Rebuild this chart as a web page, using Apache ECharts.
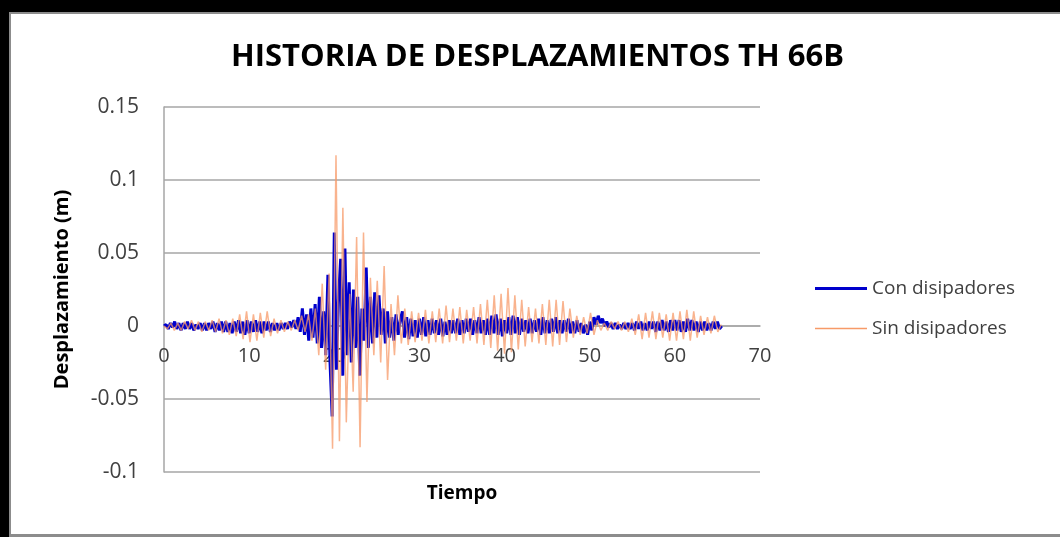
<!DOCTYPE html>
<html>
<head>
<meta charset="utf-8">
<script src="https://cdn.jsdelivr.net/npm/echarts@6/dist/echarts.min.js"></script>
<style>
html,body{margin:0;padding:0;background:#fff;}
#chart{width:1060px;height:537px;}
</style>
</head>
<body>
<div id="chart"></div>
<script>
// ---- Data ----
var TITLE = 'HISTORIA DE DESPLAZAMIENTOS TH 66B';
var SERIES_NAMES = ['Con disipadores', 'Sin disipadores'];
var X_TICKS = [0, 10, 20, 30, 40, 50, 60, 70];
var Y_TICKS = [-0.1, -0.05, 0, 0.05, 0.1, 0.15];

// sampling step of each record (s)
var STEP_CON = 0.25;
var STEP_SIN = 0.404;

// Con disipadores displacement (m), one value per STEP_CON
var conDisipadores = [
  0, 0.001, -0.002, 0.002,
  -0.001, 0.003, -0.002, 0.002,
  -0.003, 0.002, -0.002, 0.003,
  -0.002, 0.002, -0.003, 0.001,
  -0.002, 0.002, -0.003, 0.002,
  -0.003, 0.002, -0.002, 0.003,
  -0.004, 0.002, -0.003, 0.003,
  -0.004, 0.003, -0.004, 0.002,
  -0.005, 0.003, -0.004, 0.004,
  -0.005, 0.003, -0.006, 0.004,
  -0.005, 0.003, -0.004, 0.004,
  -0.004, 0.003, -0.005, 0.003,
  -0.003, 0.003, -0.004, 0.002,
  -0.003, 0.002, -0.003, 0.002,
  -0.002, 0.002, -0.002, 0.003,
  -0.001, 0.004, -0.002, 0.006,
  -0.004, 0.012, -0.006, 0.008,
  -0.010, 0.012, -0.008, 0.015,
  -0.012, 0.020, -0.015, 0.010,
  -0.020, 0.035, -0.025, -0.062,
  0.064, -0.030, 0.020, 0.046,
  -0.034, 0.053, -0.020, 0.030,
  -0.025, 0.025, -0.015, 0.020,
  -0.034, 0.012, -0.010, 0.040,
  -0.015, 0.020, -0.012, 0.023,
  -0.008, 0.021, -0.006, 0.012,
  -0.012, 0.010, -0.008, 0.006,
  -0.010, 0.008, -0.006, 0.004,
  0.010, -0.008, 0.006, -0.009,
  0.005, -0.007, 0.004, -0.008,
  0.005, -0.006, 0.006, -0.007,
  0.004, -0.006, 0.005, -0.005,
  0.004, -0.006, 0.005, -0.007,
  0.003, -0.006, 0.004, -0.005,
  0.004, -0.005, 0.005, -0.006,
  0.004, -0.005, 0.005, -0.004,
  0.005, -0.006, 0.004, -0.005,
  0.006, -0.005, 0.004, -0.006,
  0.005, -0.006, 0.007, -0.005,
  0.008, -0.006, 0.005, -0.007,
  0.004, -0.005, 0.006, -0.006,
  0.007, -0.005, 0.006, -0.006,
  0.005, -0.004, 0.004, -0.005,
  0.005, -0.005, 0.004, -0.004,
  0.005, -0.006, 0.006, -0.005,
  0.004, -0.005, 0.005, -0.004,
  0.006, -0.005, 0.004, -0.005,
  0.004, -0.004, 0.005, -0.005,
  0.003, -0.005, 0.004, -0.004,
  0.002, -0.005, 0.001, -0.006,
  0.003, -0.003, 0.006, 0.001,
  0.007, 0.002, 0.005, 0.000,
  0.003, -0.001, 0.002, -0.002,
  0.002, -0.002, 0.001, -0.002,
  0.002, -0.002, 0.002, -0.002,
  0.002, -0.003, 0.003, -0.002,
  0.003, -0.003, 0.002, -0.003,
  0.003, -0.002, 0.003, -0.004,
  0.003, -0.003, 0.004, -0.003,
  0.003, -0.004, 0.004, -0.003,
  0.004, -0.003, 0.004, -0.004,
  0.003, -0.004, 0.005, -0.003,
  0.004, -0.003, 0.003, -0.004,
  0.003, -0.003, 0.003, -0.003,
  0.002, -0.003, 0.003, -0.002,
  0.003, -0.002, 0.000
];

// Sin disipadores displacement (m), one value per STEP_SIN
var sinDisipadores = [
  0, -0.002, 0.002, -0.003, 0.002, -0.003, 0.003, -0.002, 0.004, -0.003,
  0.003, -0.004, 0.003, -0.003, 0.004, -0.004, 0.005, -0.005, 0.004, -0.006,
  0.005, -0.007, 0.008, -0.009, 0.010, -0.011, 0.008, -0.010, 0.009, -0.008,
  0.010, -0.007, 0.005, -0.005, 0.004, -0.004, 0.003, -0.003, 0.004, -0.003,
  0.007, -0.004, 0.008, -0.010, 0.012, -0.020, 0.029, -0.030, 0.036, -0.084,
  0.117, -0.079, 0.081, -0.066, 0.022, -0.045, 0.061, -0.083, 0.064, -0.052,
  0.033, -0.020, 0.031, -0.025, 0.041, -0.037, 0.015, -0.020, 0.021, -0.012,
  0.012, -0.013, 0.010, -0.011, 0.009, -0.010, 0.011, -0.012, 0.010, -0.011,
  0.012, -0.012, 0.014, -0.011, 0.012, -0.010, 0.013, -0.012, 0.011, -0.010,
  0.013, -0.012, 0.015, -0.013, 0.018, -0.015, 0.021, -0.017, 0.022, -0.019,
  0.026, -0.018, 0.021, -0.016, 0.018, -0.014, 0.013, -0.011, 0.012, -0.012,
  0.015, -0.013, 0.018, -0.014, 0.018, -0.013, 0.017, -0.011, 0.012, -0.008,
  0.007, -0.006, 0.006, -0.005, 0.009, -0.006, 0.004, -0.003, 0.002, -0.003,
  0.003, -0.002, 0.003, -0.003, 0.003, -0.004, 0.005, -0.006, 0.008, -0.009,
  0.009, -0.008, 0.010, -0.009, 0.009, -0.008, 0.008, -0.010, 0.009, -0.010,
  0.010, -0.009, 0.011, -0.010, 0.010, -0.008, 0.007, -0.006, 0.006, -0.005,
  0.007, -0.004, 0.001
];

// ---- Build series points through the library's value axes ----
function toPoints(values, step) {
  return values.map(function (v, i) { return [+(i * step).toFixed(3), v]; });
}

var FONT = "'Open Sans', 'Noto Sans', 'Liberation Sans', sans-serif";
var GRID_TOP = 107, GRID_BOTTOM = 65, CHART_H = 537;
// the category axis crosses the value axis at y = 0 (Excel style)
var plotH = CHART_H - GRID_TOP - GRID_BOTTOM;
var zeroOffset = -plotH * (0 - Y_TICKS[0]) / (Y_TICKS[Y_TICKS.length - 1] - Y_TICKS[0]);

var chart = echarts.init(document.getElementById('chart'), null, { renderer: 'canvas' });
chart.setOption({
  backgroundColor: '#ffffff',
  animation: false,
  title: {
    text: TITLE,
    left: 226,
    top: 37,
    textStyle: { fontFamily: FONT, fontWeight: 'bold', fontSize: 31, color: '#000' }
  },
  grid: { left: 164, right: 300, top: GRID_TOP, bottom: GRID_BOTTOM, containLabel: false, outerBoundsMode: 'none' },
  legend: {
    orient: 'vertical',
    left: 810,
    top: 274,
    itemWidth: 52,
    itemHeight: 12,
    itemGap: 21,
    textStyle: { fontFamily: FONT, fontSize: 19, color: '#404040' },
    data: [
      { name: SERIES_NAMES[0], icon: 'path://M0,4.5 L50,4.5 L50,7.5 L0,7.5 Z' },
      { name: SERIES_NAMES[1], icon: 'path://M0,5.25 L50,5.25 L50,6.75 L0,6.75 Z' }
    ]
  },
  xAxis: {
    type: 'value',
    position: 'bottom',
    offset: zeroOffset,
    min: X_TICKS[0],
    max: X_TICKS[X_TICKS.length - 1],
    interval: 10,
    name: 'Tiempo',
    nameLocation: 'middle',
    nameGap: 158,
    nameTextStyle: { fontFamily: FONT, fontWeight: 'bold', fontSize: 19, color: '#000' },
    axisLine: { onZero: false, lineStyle: { color: '#a6a6a6', width: 1.5 } },
    axisTick: { show: false },
    splitLine: { show: false },
    axisLabel: { fontFamily: FONT, fontSize: 20, color: '#404040', margin: 20 }
  },
  yAxis: {
    type: 'value',
    min: Y_TICKS[0],
    max: Y_TICKS[Y_TICKS.length - 1],
    interval: 0.05,
    name: 'Desplazamiento (m)',
    nameLocation: 'middle',
    nameGap: 92,
    nameRotate: 90,
    nameTextStyle: { fontFamily: FONT, fontWeight: 'bold', fontSize: 20, color: '#000' },
    axisLine: { show: true, lineStyle: { color: '#a6a6a6', width: 1.5 } },
    axisTick: { show: false },
    splitLine: { show: true, lineStyle: { color: '#a6a6a6', width: 1.5 } },
    axisLabel: { fontFamily: FONT, fontSize: 21, color: '#404040', margin: 25 }
  },
  series: [
    {
      name: SERIES_NAMES[0],
      type: 'line',
      data: toPoints(conDisipadores, STEP_CON),
      symbol: 'none',
      color: '#0000cc',
      lineStyle: { color: '#0000cc', width: 3 },
      z: 2
    },
    {
      name: SERIES_NAMES[1],
      type: 'line',
      data: toPoints(sinDisipadores, STEP_SIN),
      symbol: 'none',
      color: '#f79a68',
      lineStyle: { color: '#f79a68', width: 1.5, opacity: 0.75 },
      z: 3
    }
  ],
  graphic: [
    { type: 'rect', shape: { x: 0, y: 0, width: 1060, height: 12 }, style: { fill: '#000' }, silent: true },
    { type: 'rect', shape: { x: 0, y: 0, width: 9, height: 537 }, style: { fill: '#000' }, silent: true },
    { type: 'rect', shape: { x: 9, y: 12, width: 1051, height: 2 }, style: { fill: '#8c8c8c' }, silent: true },
    { type: 'rect', shape: { x: 9, y: 12, width: 2, height: 525 }, style: { fill: '#8c8c8c' }, silent: true },
    { type: 'rect', shape: { x: 9, y: 534, width: 1051, height: 3 }, style: { fill: '#8c8c8c' }, silent: true }
  ]
});
</script>
</body>
</html>
